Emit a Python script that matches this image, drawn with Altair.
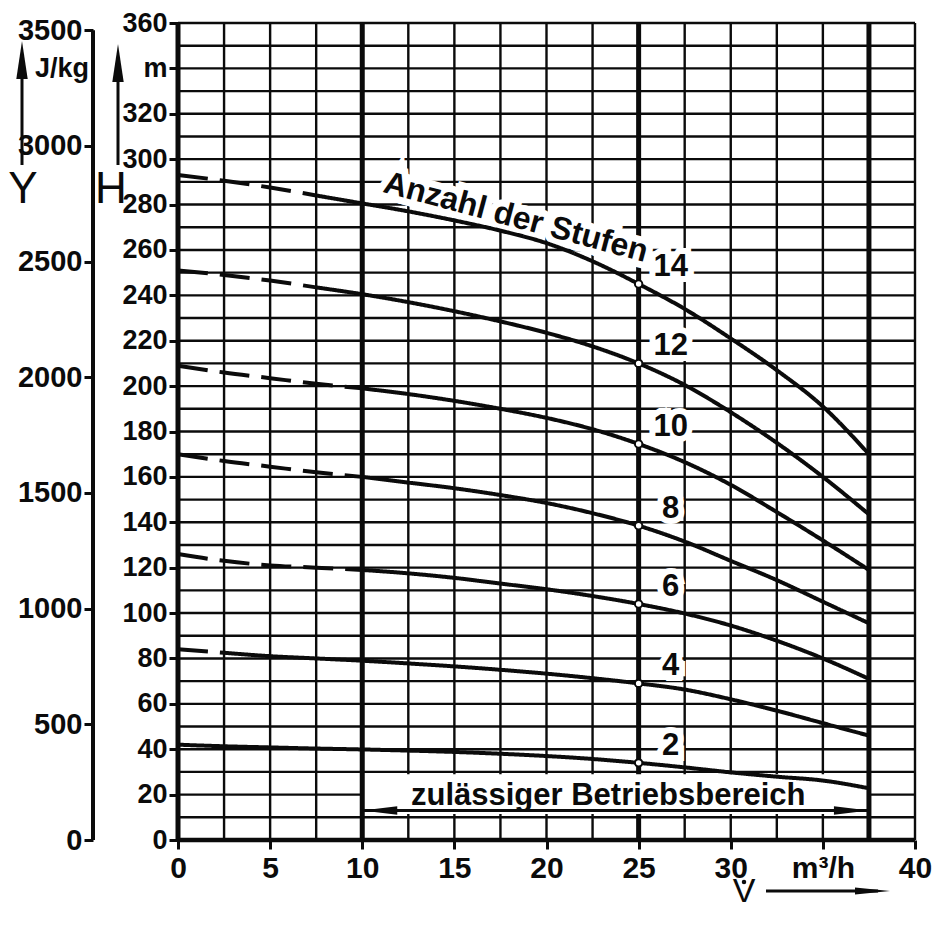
import altair as alt
import numpy as np
import pandas as pd

# ---------------- data ----------------
flow = [0, 2.5, 5, 7.5, 10, 12.5, 15, 17.5, 20, 22.5, 25, 27.5, 30, 32.5, 35, 37.5]
head_2 = [42, 41.3, 40.8, 40.3, 39.9, 39.4, 38.8, 38, 37, 35.7, 34, 32, 29.8, 27.9, 26.2, 22.8]
head_4 = [84, 82.5, 81, 80, 79, 77.8, 76.5, 75, 73.3, 71.3, 69, 66.3, 62, 57, 51.5, 46]
head_6 = [126, 123, 121, 120, 119, 117.5, 115.5, 113, 110.5, 107.5, 104, 99.8, 94.5, 87.8, 80, 71]
head_8 = [170, 167, 164.5, 162, 160, 157.5, 155, 152, 148.5, 144, 138.5, 131.5, 123, 114.5, 105, 95.5]
head_10 = [209, 206, 203.5, 201, 199, 196.5, 193.5, 190, 186, 181, 174.5, 166.5, 156.5, 144.5, 132, 119]
head_12 = [251, 249, 246.5, 243.5, 240.5, 237, 233, 228.5, 223.5, 217.5, 210, 200.5, 188.5, 175, 160, 143.5]
head_14 = [293, 290.5, 287.5, 284, 280.5, 277, 273, 268.5, 263, 255, 245, 234, 221, 207, 191, 170]

stages = [2, 4, 6, 8, 10, 12, 14]
heads = [head_2, head_4, head_6, head_8, head_10, head_12, head_14]
dash_until = [0, 2.5, 10, 10, 10, 7.5, 7.5]     # dashed (extrapolated) part of each curve
operating_flow = 25
range_start, range_end = 10, 37.5               # zulässiger Betriebsbereich

x_ticks = [0, 5, 10, 15, 20, 25, 30, 35, 40]
x_grid = [0, 2.5, 5, 7.5, 10, 12.5, 15, 17.5, 20, 22.5, 25, 27.5, 30, 32.5, 35, 37.5, 40]
h_ticks = list(range(0, 361, 20))
h_grid = list(range(0, 361, 10))
y_ticks = [0, 500, 1000, 1500, 2000, 2500, 3000, 3500]
heavy_under = [0, 25]          # heavy verticals hidden behind the range label
heavy_over = [10, 37.5]        # heavy verticals bounding the operating range
G = 9.81

# ---------------- style ----------------
W, HT = 737, 817
FONT = "Liberation Sans, Arial, sans-serif"
INK = "#0b0b0b"

xs = alt.Scale(domain=[0, 40], nice=False, zero=False)
hs = alt.Scale(domain=[0, 360], nice=False, zero=False)

x_axis = alt.Axis(values=x_ticks, title=None, domain=False, grid=False, ticks=True,
                  tickSize=9, tickWidth=3, tickColor=INK, format="d",
                  labelFont=FONT, labelFontSize=30, labelFontWeight="bold",
                  labelColor=INK, labelPadding=4, labelFlush=False, labelOverlap=False,
                  labelExpr="datum.value == 35 ? 'm³/h' : datum.label")
h_axis = alt.Axis(values=h_ticks, title=None, domain=False, grid=False, ticks=True,
                  tickSize=9, tickWidth=3, tickColor=INK, format="d",
                  labelFont=FONT, labelFontSize=27, labelFontWeight="bold",
                  labelColor=INK, labelPadding=2, labelFlush=False, labelOverlap=False,
                  labelExpr="datum.value == 340 ? 'm' : datum.label")


def X(field):
    return alt.X(field, type="quantitative", scale=xs, axis=x_axis)


def Y(field):
    return alt.Y(field, type="quantitative", scale=hs, axis=h_axis)


# ---------------- tables ----------------
rows = []
for s, d, hv in zip(stages, dash_until, heads):
    for f, h in zip(flow, hv):
        if d > 0 and f <= d:
            rows.append(dict(stage=s, flow=f, head=h, seg="dashed"))
        if f >= d:
            rows.append(dict(stage=s, flow=f, head=h, seg="solid"))
curves_df = pd.DataFrame(rows)

op_df = pd.DataFrame({
    "stage": stages,
    "flow": [operating_flow] * len(stages),
    "head": [float(np.interp(operating_flow, flow, hv)) for hv in heads],
    "label": [str(s) for s in stages],
})

heavy_all = heavy_under + heavy_over
gv_df = pd.DataFrame({"gx": [v for v in x_grid if v not in heavy_all]})
gv_df["y0"], gv_df["y1"] = 0, 360
gh_df = pd.DataFrame({"gy": [v for v in h_grid if v != 0]})
gh_df["x0"], gh_df["x1"] = 0, 40
hu_df = pd.DataFrame({"gx": heavy_under})
hu_df["y0"], hu_df["y1"] = 0, 360
ho_df = pd.DataFrame({"gx": heavy_over})
ho_df["y0"], ho_df["y1"] = 0, 360
hh_df = pd.DataFrame({"gy": [0], "x0": [0], "x1": [40]})

band_df = pd.DataFrame({"x0": [range_start], "x1": [range_end], "y0": [11.5], "y1": [29]})
range_df = pd.DataFrame({"x0": [range_start], "x1": [range_end], "y": [13],
                         "xm": [(range_start + range_end) / 2 - 0.4], "ym": [19.5],
                         "txt": ["zulässiger Betriebsbereich"]})
title_flow = 18.1
title_df = pd.DataFrame({"flow": [title_flow],
                         "head": [float(np.interp(title_flow, flow, head_14))],
                         "txt": ["Anzahl der Stufen"]})
one = pd.DataFrame({"a": [0]})

# ---------------- layers ----------------
grid_v = alt.Chart(gv_df).mark_rule(color=INK, strokeWidth=2.4).encode(
    x=X("gx"), y=Y("y0"), y2="y1")
grid_h = alt.Chart(gh_df).mark_rule(color=INK, strokeWidth=2.4).encode(
    y=Y("gy"), x=X("x0"), x2="x1")
heavy_u = alt.Chart(hu_df).mark_rule(color=INK, strokeWidth=5).encode(
    x=X("gx"), y=Y("y0"), y2="y1")
band = alt.Chart(band_df).mark_rect(color="white").encode(
    x=X("x0"), x2="x1", y=Y("y0"), y2="y1")
heavy_o = alt.Chart(ho_df).mark_rule(color=INK, strokeWidth=5).encode(
    x=X("gx"), y=Y("y0"), y2="y1")
heavy_h = alt.Chart(hh_df).mark_rule(color=INK, strokeWidth=4.5).encode(
    y=Y("gy"), x=X("x0"), x2="x1")

halo_stage = alt.Chart(op_df).mark_text(
    font=FONT, fontSize=31, fontWeight="bold", fill="white", stroke="white",
    strokeWidth=12, dx=32, dy=-17, align="center", baseline="middle").encode(
    x=X("flow"), y=Y("head"), text="label:N")
halo_title = alt.Chart(title_df).mark_text(
    font=FONT, fontSize=32, fontWeight="bold", fill="white", stroke="white",
    strokeWidth=14, angle=15, dy=-7, align="center", baseline="alphabetic").encode(
    x=X("flow"), y=Y("head"), text="txt:N")

curves = alt.Chart(curves_df).mark_line(color=INK, strokeWidth=4, interpolate="monotone").encode(
    x=X("flow"), y=Y("head"), detail=["stage:N", "seg:N"],
    strokeDash=alt.StrokeDash("seg:N", scale=alt.Scale(domain=["solid", "dashed"],
                                                        range=[[1, 0], [30, 12]]), legend=None))
points = alt.Chart(op_df).mark_point(shape="circle", filled=True, fill="white", stroke=INK,
                                     strokeWidth=2, size=55, opacity=1).encode(
    x=X("flow"), y=Y("head"))
stage_text = alt.Chart(op_df).mark_text(
    font=FONT, fontSize=31, fontWeight="bold", color=INK, dx=32, dy=-17,
    align="center", baseline="middle").encode(
    x=X("flow"), y=Y("head"), text="label:N")
title_text = alt.Chart(title_df).mark_text(
    font=FONT, fontSize=32, fontWeight="bold", color=INK, angle=15, dy=-7,
    align="center", baseline="alphabetic").encode(
    x=X("flow"), y=Y("head"), text="txt:N")

range_rule = alt.Chart(range_df).mark_rule(color=INK, strokeWidth=3).encode(
    x=X("x0"), x2="x1", y=Y("y"))
range_left = alt.Chart(range_df).mark_point(
    shape="M0,0 L2,-0.24 L2,0.24 Z", filled=True, color=INK, size=1225, opacity=1).encode(
    x=X("x0"), y=Y("y"))
range_right = alt.Chart(range_df).mark_point(
    shape="M0,0 L-2,-0.24 L-2,0.24 Z", filled=True, color=INK, size=1225, opacity=1).encode(
    x=X("x1"), y=Y("y"))
range_text = alt.Chart(range_df).mark_text(
    font=FONT, fontSize=31, fontWeight="bold", color=INK, align="center",
    baseline="middle").encode(x=X("xm"), y=Y("ym"), text="txt:N")


# ---- decorations outside the plot (pixel positions relative to the plot origin) ----
def deco_text(txt, px, py, size, weight="normal"):
    return alt.Chart(one).mark_text(text=txt, font=FONT, fontSize=size, fontWeight=weight,
                                    color=INK, align="center", baseline="middle").encode(
        x=alt.value(px), y=alt.value(py))


def deco_line(px0, px1, py0, py1, w=3):
    return alt.Chart(one).mark_rule(color=INK, strokeWidth=w).encode(
        x=alt.value(px0), x2=alt.value(px1), y=alt.value(py0), y2=alt.value(py1))


def deco_head(px, py, path, size):
    return alt.Chart(one).mark_point(shape=path, filled=True, color=INK, size=size,
                                     opacity=1).encode(x=alt.value(px), y=alt.value(py))


UP = "M0,0 L0.3,2 L-0.3,2 Z"
RIGHT = "M0,0 L-2,-0.2 L-2,0.2 Z"
decor = [
    deco_text("Y", -155, 167, 44),
    deco_text("H", -67, 167, 44),
    deco_line(-156, -156, 142, 50, 3),
    deco_head(-156, 18, UP, 1444),
    deco_line(-60, -60, 142, 52, 3),
    deco_head(-60, 21, UP, 1444),
    deco_text("J/kg", -116, 46, 27, "bold"),
    deco_text("V", 566, 869, 34),
    deco_head(566, 859, "circle", 20),
    deco_line(588, 700, 868, 868, 3),
    deco_head(712, 868, RIGHT, 1225),
]

main = alt.layer(grid_v, grid_h, heavy_u, band, heavy_o, heavy_h, halo_stage, halo_title,
                 curves, points, stage_text, title_text,
                 range_rule, range_left, range_right, range_text, *decor)

# ---- second scale: specific energy Y = g*H in J/kg ----
y_axis = alt.Axis(values=y_ticks, title=None, domain=False, grid=False, orient="left",
                  offset=85, tickSize=9, tickWidth=3, tickColor=INK, format="d",
                  labelFont=FONT, labelFontSize=29, labelFontWeight="bold",
                  labelColor=INK, labelPadding=2, labelFlush=False, labelOverlap=False)
y_df = pd.DataFrame({"y0": [0], "y1": [max(y_ticks)]})
ylayer = alt.Chart(y_df).mark_rule(color=INK, strokeWidth=4).encode(
    x=alt.value(-85),
    y=alt.Y("y0:Q", scale=alt.Scale(domain=[0, 360 * G], nice=False, zero=False), axis=y_axis),
    y2="y1")

chart = alt.layer(main, ylayer).resolve_scale(y="independent").properties(
    width=W, height=HT,
    padding={"left": 170, "top": 15, "right": 17, "bottom": 68},
    autosize=alt.AutoSizeParams(type="none"),
).configure_view(stroke=None).configure(background="white")

chart.save("out.html", embed_options={"renderer": "svg", "actions": False})
